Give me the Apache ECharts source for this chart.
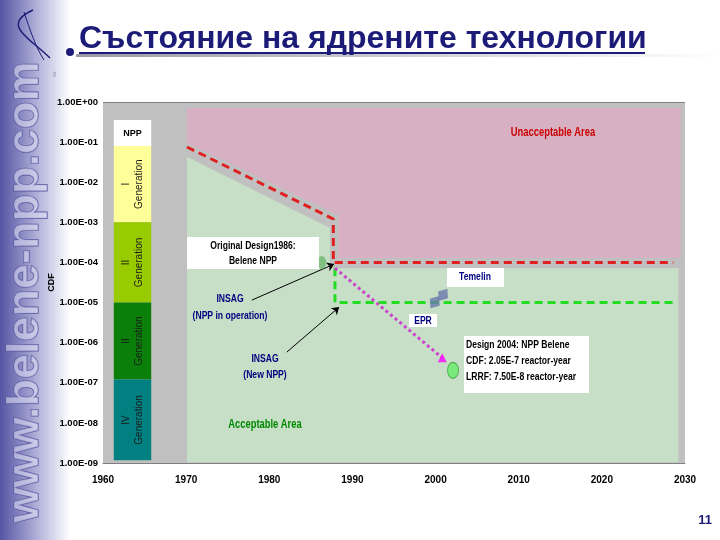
<!DOCTYPE html>
<html>
<head>
<meta charset="UTF-8">
<title>Състояние на ядрените технологии</title>
<script src="https://cdn.jsdelivr.net/npm/echarts@6/dist/echarts.min.js"></script>
<style>
html, body { margin: 0; padding: 0; background: #fff; }
#container { width: 720px; height: 540px; }
</style>
</head>
<body>
<div id="container"></div>
<script>
// x - година, y - CDF (логаритмична скала)
var years = [1960, 1970, 1980, 1990, 2000, 2010, 2020, 2030];
var cdfTicks = [1e-9, 1e-8, 1e-7, 1e-6, 1e-5, 1e-4, 1e-3, 1e-2, 1e-1, 1];

var unacceptableArea = [[1970.1, 0.71], [2029.5, 0.71], [2029.5, 1.29e-4], [1988.3, 1.29e-4], [1988.3, 1.52e-3], [1970.1, 0.095]];
var acceptableArea = [[1970.1, 0.043], [1987.3, 7.2e-4], [1987.3, 7.2e-5], [2029.2, 7.2e-5], [2029.2, 1.05e-9], [1970.1, 1.05e-9]];

var generations = ['NPP', 'I\nGeneration', 'II\nGeneration', 'II\nGeneration', 'IV\nGeneration'];
var generationTop = [0.355, 0.08, 1e-3, 1e-5, 1.2e-7];
var generationBottom = [0.08, 1e-3, 1e-5, 1.2e-7, 1.17e-9];

var originalLimit = [[1970.1, 0.0755], [1987.7, 1.21e-3], [1987.7, 1e-4], [2028.6, 1e-4]];
var insagNewLimit = [[1987.9, 7.2e-5], [1987.9, 1e-5], [2029, 1e-5]];
var designTrend = [[1987.9, 7.2e-5], [2000.8, 4.2e-7]];

var original1986 = [[1986.3, 1e-4]];
var design2004 = [[2002.1, 2.05e-7]];
var temelin = [[2000.9, 1.55e-5]];
var epr = [[1999.9, 1.02e-5]];

var arrowOperation = [[1977.9, 1.15e-5], [1987.8, 9.1e-5]];
var arrowNew = [[1982.1, 5.8e-7], [1988.4, 7.7e-6]];

var GEN_X0 = 1961.3, GEN_X1 = 1965.8;
var genColors = ['#ffffff', '#ffff99', '#99cc00', '#0a800a', '#008080'];
var FONT = 'Liberation Sans, Arial, sans-serif';
var NAVY = '#1c1c78';

var dom = document.getElementById('container');
var myChart = echarts.init(dom);

function sci(v) {
	var e = Math.round(Math.log(v) / Math.LN10);
	var s = e < 0 ? '-' : '+';
	var a = Math.abs(e);
	return '1.00E' + s + (a < 10 ? '0' + a : a);
}

function polygonSeries(points, color, z) {
	return {
		type: 'custom', z: z, silent: true,
		data: [points[0]],
		renderItem: function (params, api) {
			return {
				type: 'polygon',
				shape: { points: points.map(function (p) { return api.coord(p); }) },
				style: { fill: color }
			};
		}
	};
}

function lineSeries(data, color, dash, z) {
	return {
		type: 'line', data: data, z: z, silent: true,
		showSymbol: false, symbol: 'none',
		lineStyle: { color: color, width: 3, type: dash }
	};
}

function scatter(data, symbol, size, color, border, rotate) {
	return {
		type: 'scatter', data: data, z: 8, silent: true,
		symbol: symbol, symbolSize: size, symbolRotate: rotate || 0,
		itemStyle: { color: color, borderColor: border, borderWidth: border ? 1 : 0 }
	};
}

// кондензиран текст
function txt(text, x, y, color, size, opts) {
	opts = opts || {};
	return {
		type: 'text', x: x, y: y, z: 100, scaleX: opts.sx || 0.78,
		style: {
			text: text, fill: color,
			font: (opts.weight || 'bold') + ' ' + size + 'px ' + FONT,
			align: opts.align || 'center', verticalAlign: 'middle',
			lineHeight: opts.lh || size + 4
		}
	};
}

function box(x, y, w, h) {
	return { type: 'rect', z: 99, shape: { x: x, y: y, width: w, height: h }, style: { fill: '#ffffff' } };
}

var option = {
	animation: false,
	backgroundColor: '#ffffff',
	grid: {
		left: 103, right: 35, top: 102, bottom: 77,
		show: true, backgroundColor: '#c0c0c0', borderWidth: 0,
		outerBoundsMode: 'none'
	},
	xAxis: {
		type: 'value', min: years[0], max: years[years.length - 1], interval: 10,
		axisLine: { show: true, lineStyle: { color: '#808080', width: 1 } },
		axisTick: { show: false },
		splitLine: { show: false },
		axisLabel: {
			color: '#000', fontSize: 10, fontWeight: 'bold', fontFamily: FONT, margin: 12,
			formatter: function (v) { return String(v); }
		}
	},
	yAxis: {
		type: 'log', logBase: 10, min: cdfTicks[0], max: cdfTicks[cdfTicks.length - 1], splitNumber: 9,
		name: 'CDF', nameLocation: 'middle', nameRotate: 90, nameGap: 47, nameMoveOverlap: false,
		nameTextStyle: { color: '#000', fontSize: 9, fontWeight: 'bold', fontFamily: FONT },
		axisLine: { show: false },
		axisTick: { show: false },
		splitLine: { show: false },
		axisLabel: { color: '#000', fontSize: 9.5, fontWeight: 'bold', fontFamily: FONT, margin: 5, formatter: sci }
	},
	series: [
		polygonSeries(unacceptableArea, '#d7b0c3', 1),
		polygonSeries(acceptableArea, '#c6dfc6', 1),
		{
			type: 'line', data: [], z: 2, silent: true,
			markLine: {
				silent: true, symbol: 'none', label: { show: false },
				data: [
					[{ coord: [1960, 1], lineStyle: { color: '#808080', width: 1, type: 'solid' } }, { coord: [2030, 1] }],
					[{ coord: [1959.6, 0.1], lineStyle: { color: '#000', width: 1, type: 'solid' } }, { coord: [2030, 0.1] }]
				]
			}
		},
		{
			type: 'custom', z: 3, silent: true,
			data: generations.map(function (g, i) { return [GEN_X0, generationTop[i], GEN_X1, generationBottom[i]]; }),
			encode: { x: [0, 2], y: [1, 3] },
			renderItem: function (params, api) {
				var i = params.dataIndex;
				var p1 = api.coord([api.value(0), api.value(1)]);
				var p2 = api.coord([api.value(2), api.value(3)]);
				var cx = (p1[0] + p2[0]) / 2, cy = (p1[1] + p2[1]) / 2;
				var label = i === 0 ? {
					type: 'text', x: cx, y: cy,
					style: { text: generations[i], fill: '#000', font: 'bold 9px ' + FONT, align: 'center', verticalAlign: 'middle' }
				} : {
					type: 'text', x: cx, y: cy, rotation: Math.PI / 2,
					style: { text: generations[i], fill: '#1a1a1a', font: '10px ' + FONT, align: 'center', verticalAlign: 'middle', lineHeight: 13 }
				};
				return {
					type: 'group',
					children: [
						{ type: 'rect', shape: { x: p1[0], y: p1[1], width: p2[0] - p1[0], height: p2[1] - p1[1] }, style: { fill: genColors[i] } },
						label
					]
				};
			}
		},
		lineSeries(originalLimit, '#e02020', [8, 5], 4),
		lineSeries(insagNewLimit, '#22dd22', [8, 5], 4),
		lineSeries(designTrend, '#cc44cc', [3, 3], 5),
		scatter(original1986, 'circle', [9, 13], '#70b870', null),
		scatter(design2004, 'circle', [11, 16], '#66ee66', '#3a9a3a'),
		scatter([designTrend[1]], 'triangle', 9, '#ff00ff', null),
		scatter(temelin, 'diamond', [12, 15], '#6878aa', null, -35),
		scatter(epr, 'diamond', [12, 15], '#6878aa', null, -35),
		{
			type: 'line', data: [], z: 9, silent: true,
			markLine: {
				silent: true, symbol: ['none', 'arrow'], symbolSize: 7,
				label: { show: false },
				lineStyle: { color: '#000', width: 1, type: 'solid' },
				data: [
					[{ coord: arrowOperation[0] }, { coord: arrowOperation[1] }],
					[{ coord: arrowNew[0] }, { coord: arrowNew[1] }]
				]
			}
		}
	],
	graphic: [
		// лява лента
		{
			type: 'rect', z: -1, shape: { x: 0, y: 0, width: 70, height: 540 },
			style: { fill: new echarts.graphic.LinearGradient(0, 0, 1, 0, [
				{ offset: 0, color: '#5454a4' }, { offset: 0.55, color: '#b4b4da' }, { offset: 1, color: '#ffffff' }
			]) }
		},
		{
			type: 'text', x: 26, y: 292, rotation: Math.PI / 2, z: 1,
			style: {
				text: 'www.belene-npp.com', font: 'bold 45px ' + FONT,
				align: 'center', verticalAlign: 'middle',
				fill: 'rgba(225,225,245,0.55)', stroke: '#5656a0', lineWidth: 1.2
			}
		},
		{
			type: 'bezierCurve', z: 2,
			shape: { x1: 33, y1: 10, x2: 50, y2: 58, cpx1: 0, cpy1: 25, cpx2: 30, cpy2: 38 },
			style: { stroke: NAVY, lineWidth: 1.5, fill: null }
		},
		{
			type: 'bezierCurve', z: 2,
			shape: { x1: 24, y1: 12, x2: 44, y2: 60, cpx1: 30, cpy1: 30, cpx2: 36, cpy2: 48 },
			style: { stroke: NAVY, lineWidth: 1, fill: null }
		},
		{ type: 'circle', z: 2, shape: { cx: 70, cy: 52, r: 4 }, style: { fill: NAVY } },
		{
			type: 'text', x: 54, y: 74, rotation: Math.PI / 2, z: 2,
			style: { text: 'ro', font: '6px ' + FONT, fill: '#8080a0', align: 'center', verticalAlign: 'middle' }
		},
		// заглавие
		{
			type: 'rect', z: 1, shape: { x: 76, y: 54, width: 644, height: 3 },
			style: { fill: new echarts.graphic.LinearGradient(0, 0, 1, 0, [
				{ offset: 0, color: '#9a9aa6' }, { offset: 1, color: '#ffffff' }
			]) }
		},
		{
			type: 'text', x: 79, y: 39, z: 3,
			style: { text: 'Състояние на ядрените технологии', font: 'bold 32px ' + FONT, fill: NAVY, align: 'left', verticalAlign: 'middle' }
		},
		{ type: 'rect', z: 3, shape: { x: 79, y: 52, width: 566, height: 2 }, style: { fill: NAVY } },
		{
			type: 'text', x: 712, y: 520, z: 3,
			style: { text: '11', font: 'bold 13px ' + FONT, fill: NAVY, align: 'right', verticalAlign: 'middle' }
		},
		// надписи в графиката
		txt('Unacceptable Area', 553, 133, '#cc0000', 12),
		txt('Acceptable Area', 265, 425, '#008800', 12),
		box(187, 237, 132, 32),
		txt('Original Design1986:\nBelene NPP', 253, 253, '#000', 11, { lh: 15 }),
		txt('INSAG\n(NPP in operation)', 230, 307, '#000080', 11, { lh: 17 }),
		txt('INSAG\n(New NPP)', 265, 367, '#000080', 11, { lh: 16 }),
		box(447, 268, 57, 19),
		txt('Temelin', 475, 277, '#000080', 11),
		box(409, 314, 28, 13),
		txt('EPR', 423, 321, '#000080', 11),
		box(464, 336, 125, 57),
		txt('Design 2004: NPP Belene\nCDF: 2.05E-7 reactor-year\nLRRF: 7.50E-8 reactor-year', 466, 361, '#000', 11, { align: 'left', lh: 16 })
	]
};

if (option && typeof option === 'object') {
	myChart.setOption(option, true);
}
</script>
</body>
</html>
